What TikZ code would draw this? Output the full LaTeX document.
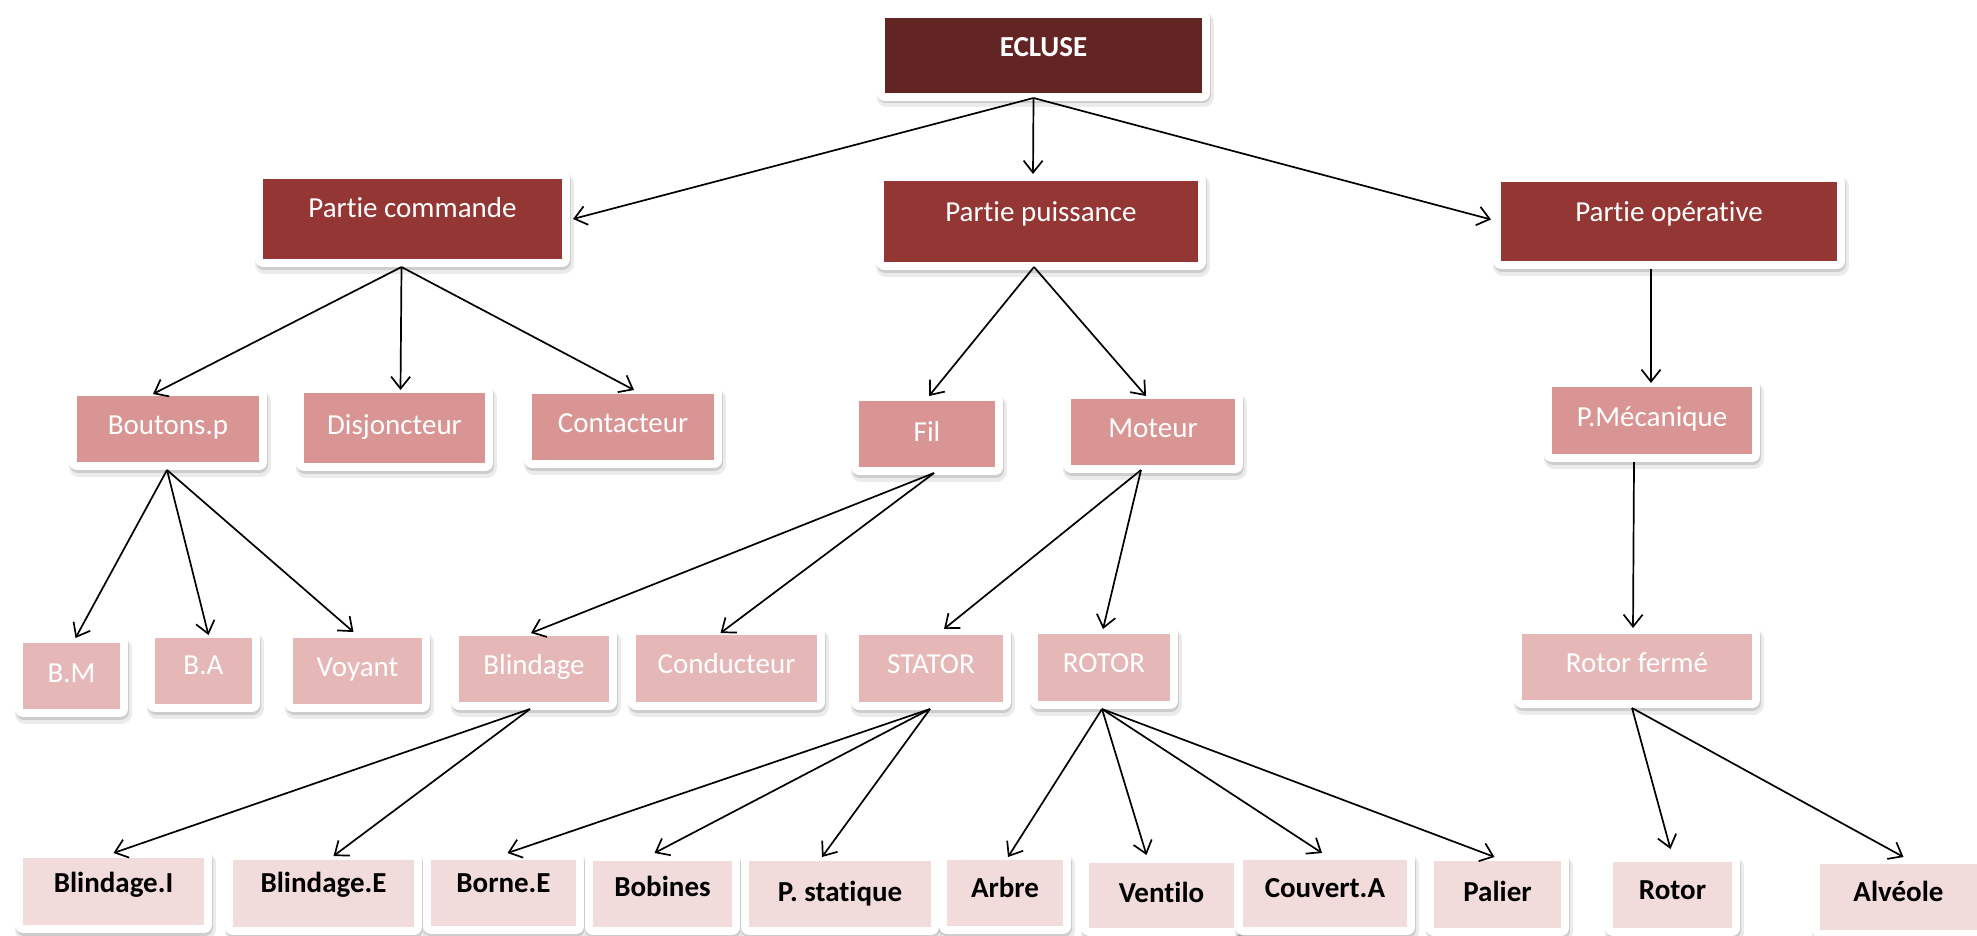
\documentclass[tikz,border=0pt]{standalone}
\usepackage{fontspec}
\setmainfont[Ligatures={NoCommon}]{Carlito}
\usetikzlibrary{calc,arrows.meta}

\definecolor{lvla}{HTML}{632523}
\definecolor{lvlb}{HTML}{943634}
\definecolor{lvlc}{HTML}{D99594}
\definecolor{lvld}{HTML}{E5B8B7}
\definecolor{lvle}{HTML}{F2DBDB}

\tikzset{
  framed/.style={
    preaction={draw=black, draw opacity=0.08, line width=20pt, line join=round,
               transform canvas={shift={(1.5pt,-4.5pt)}}},
    preaction={draw=black, draw opacity=0.13, line width=16pt, line join=round,
               transform canvas={shift={(1pt,-2.5pt)}}},
    preaction={draw=white, line width=16pt, line join=round},
    inner sep=0pt, outer sep=0pt},
  boxa/.style={framed, fill=lvla, text=white, font=\fontsize{29}{34}\selectfont\bfseries},
  boxb/.style={framed, fill=lvlb, text=white, font=\fontsize{29}{34}\selectfont},
  boxc/.style={framed, fill=lvlc, text=white, font=\fontsize{29}{34}\selectfont},
  boxd/.style={framed, fill=lvld, text=white, font=\fontsize{29}{34}\selectfont},
  boxe/.style={framed, fill=lvle, text=black, font=\fontsize{29}{34}\selectfont\bfseries},
  arr/.style={line width=1.7pt, -{Straight Barb[length=12pt,width=19pt]}}
}

% #1 style, #2 name, #3..#6 inner rectangle (x1,y1,x2,y2), #7 text centre line, #8 label
\newcommand\treebox[8]{%
  \pgfmathsetmacro\tbW{#5-#3}%
  \pgfmathsetmacro\tbH{#7-#4+9.3}%
  \pgfmathsetmacro\tbD{#6-#7-9.3}%
  \node[#1, anchor=north west, minimum width=\tbW pt,
        text height=\tbH pt, text depth=\tbD pt] (#2) at (#3,#4) {#8};}

\begin{document}
\begin{tikzpicture}[x=1pt, y=-1pt]
\useasboundingbox (0,0) rectangle (1977,936);

% root
\treebox{boxa}{ecl}{885}{18}{1202}{93}{47}{ECLUSE}

% second level (t and i kept apart, no ligature)
\treebox{boxb}{pc}{263}{179}{562}{259}{208}{Part\kern0pt ie commande}
\treebox{boxb}{pp}{884}{181}{1198}{262}{212}{Part\kern0pt ie puissance}
\treebox{boxb}{po}{1501}{182}{1837}{261}{212}{Part\kern0pt ie opérat\kern0pt ive}

% third level
\treebox{boxc}{bp}{77}{396}{259}{462}{425}{Boutons.p}
\treebox{boxc}{dj}{304}{393}{485}{463}{425}{Disjoncteur}
\treebox{boxc}{ct}{532}{394}{714}{460}{423}{Contacteur}
\treebox{boxc}{fil}{859}{401}{995}{467}{432}{Fil}
\treebox{boxc}{mot}{1071}{399}{1235}{465}{428}{Moteur}
\treebox{boxc}{pm}{1552}{387}{1752}{454}{417}{P.Mécanique}

% fourth level
\treebox{boxd}{bm}{23}{643}{120}{709}{673}{B.M}
\treebox{boxd}{ba}{155}{638}{252}{704}{665}{B.A}
\treebox{boxd}{voy}{293}{638}{422}{704}{667}{Voyant}
\treebox{boxd}{bl}{459}{636}{609}{702}{665}{Blindage}
\treebox{boxd}{cond}{636}{635}{817}{702}{664}{Conducteur}
\treebox{boxd}{sta}{859}{635}{1003}{702}{664}{STATOR}
\treebox{boxd}{rot}{1038}{634}{1170}{701}{663}{ROTOR}
\treebox{boxd}{rf}{1522}{634}{1752}{700}{663}{Rotor fermé}

% fifth level
\treebox{boxe}{bli}{23}{858}{204}{925}{883}{Blindage.I}
\treebox{boxe}{ble}{233}{860}{414}{927}{883}{Blindage.E}
\treebox{boxe}{bor}{431}{860}{576}{926}{883}{Borne.E}
\treebox{boxe}{bob}{593}{861}{732}{927}{887}{Bobines}
\treebox{boxe}{pst}{749}{861}{931}{927}{892}{P. stat\kern0pt ique}
\treebox{boxe}{arb}{947}{860}{1063}{926}{888}{Arbre}
\treebox{boxe}{ven}{1089}{863}{1234}{928}{893}{Ventilo}
\treebox{boxe}{cou}{1243}{860}{1407}{927}{888}{Couvert.A}
\treebox{boxe}{pal}{1434}{861}{1561}{928}{892}{Palier}
\treebox{boxe}{rtr}{1613}{862}{1732}{928}{890}{Rotor}
\treebox{boxe}{alv}{1820}{864}{1977}{930}{892}{Alvéole}

% connectors
\draw[arr] ($(ecl.south)+(-10,5)$) -- ($(pc.east)+(11,0)$);
\draw[arr] ($(ecl.south)+(-10,5)$) -- ($(pp.north)+(-8,-7)$);
\draw[arr] ($(ecl.south)+(-10,5)$) -- ($(po.west)+(-10,-2)$);

\draw[arr] ($(pc.south)+(-11,8)$) -- ($(bp.north)+(-15,-2)$);
\draw[arr] ($(pc.south)+(-11,8)$) -- ($(dj.north)+(6,-3)$);
\draw[arr] ($(pc.south)+(-11,8)$) -- ($(ct.north)+(11,-4)$);

\draw[arr] ($(pp.south)+(-7,5)$) -- ($(fil.north)+(2,-5)$);
\draw[arr] ($(pp.south)+(-7,5)$) -- ($(mot.north)+(-7,-3)$);

\draw[arr] ($(po.south)+(-18,8)$) -- ($(pm.north)+(-1,-4)$);

\draw[arr] ($(bp.south)+(-1,8)$) -- ($(bm.north)+(4,-5)$);
\draw[arr] ($(bp.south)+(-1,8)$) -- ($(ba.north)+(5,-3)$);
\draw[arr] ($(bp.south)+(-1,8)$) -- ($(voy.north)+(-4,-6)$);

\draw[arr] ($(fil.south)+(7,6)$) -- ($(bl.north)+(-3,-3)$);
\draw[arr] ($(fil.south)+(7,6)$) -- ($(cond.north)+(-6,-2)$);

\draw[arr] ($(mot.south)+(-12,5)$) -- ($(sta.north)+(13,-6)$);
\draw[arr] ($(mot.south)+(-12,5)$) -- ($(rot.north)+(-1,-5)$);

\draw[arr] ($(pm.south)+(-18,8)$) -- ($(rf.north)+(-4,-6)$);

\draw[arr] ($(bl.south)+(-4,7)$) -- ($(bli.north)+(0,-5)$);
\draw[arr] ($(bl.south)+(-4,7)$) -- ($(ble.north)+(10,-4)$);

\draw[arr] ($(sta.south)+(-1,7)$) -- ($(bor.north)+(4,-7)$);
\draw[arr] ($(sta.south)+(-1,7)$) -- ($(bob.north)+(-8,-8)$);
\draw[arr] ($(sta.south)+(-1,7)$) -- ($(pst.north)+(-18,-4)$);

\draw[arr] ($(rot.south)+(-2,8)$) -- ($(arb.north)+(3,-3)$);
\draw[arr] ($(rot.south)+(-2,8)$) -- ($(ven.north)+(-15,-8)$);
\draw[arr] ($(rot.south)+(-2,8)$) -- ($(cou.north)+(-3,-7)$);
\draw[arr] ($(rot.south)+(-2,8)$) -- ($(pal.north)+(-3,-4)$);

\draw[arr] ($(rf.south)+(-5,8)$) -- ($(rtr.north)+(-2,-13)$);
\draw[arr] ($(rf.south)+(-5,8)$) -- ($(alv.north)+(5,-7)$);
\end{tikzpicture}
\end{document}
